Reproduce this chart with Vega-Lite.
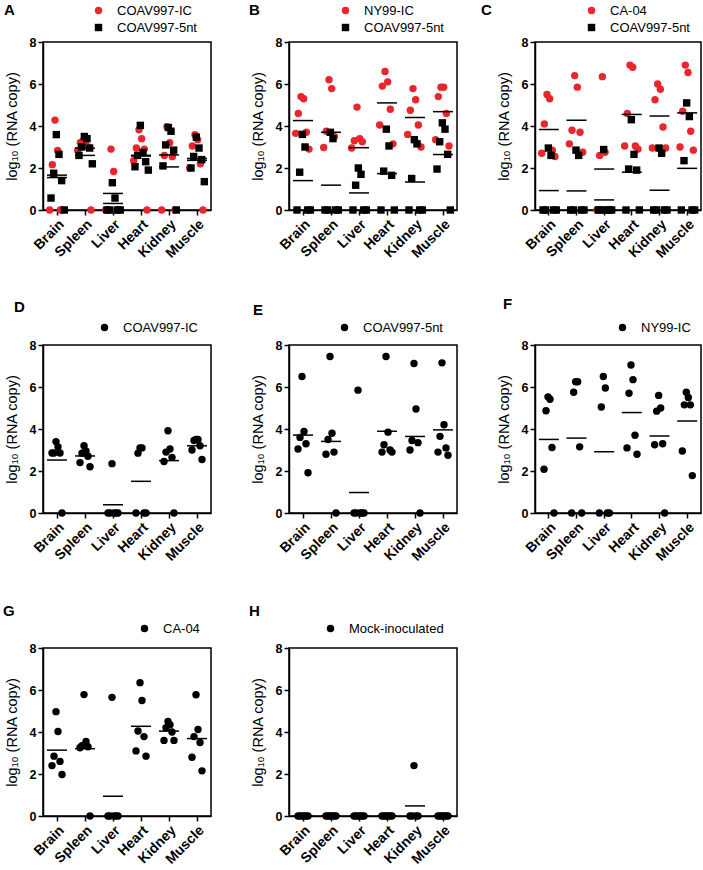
{
"$schema":"https://vega.github.io/schema/vega-lite/v6.json",
"padding":{"left":2,"top":2,"right":0,"bottom":0},
"background":"white",
"datasets":{
"A":[
{"t":"Brain","v":"COAV997-IC","y":4.28,"m":5},{"t":"Brain","v":"COAV997-IC","y":2.83,"m":7},{"t":"Brain","v":"COAV997-IC","y":2.16,"m":3},{"t":"Brain","v":"COAV997-IC","y":0,"m":9},{"t":"Brain","v":"COAV997-IC","y":0,"m":1},{"t":"Brain","v":"COAV997-IC","y":0,"m":11},
{"t":"Spleen","v":"COAV997-IC","y":3.3,"m":5},{"t":"Spleen","v":"COAV997-IC","y":3.25,"m":7},{"t":"Spleen","v":"COAV997-IC","y":3.2,"m":3},{"t":"Spleen","v":"COAV997-IC","y":3.0,"m":9},{"t":"Spleen","v":"COAV997-IC","y":2.85,"m":1},{"t":"Spleen","v":"COAV997-IC","y":0,"m":11},
{"t":"Liver","v":"COAV997-IC","y":2.9,"m":5},{"t":"Liver","v":"COAV997-IC","y":1.83,"m":7},{"t":"Liver","v":"COAV997-IC","y":0,"m":3},{"t":"Liver","v":"COAV997-IC","y":0,"m":9},{"t":"Liver","v":"COAV997-IC","y":0,"m":1},{"t":"Liver","v":"COAV997-IC","y":0,"m":11},
{"t":"Heart","v":"COAV997-IC","y":3.82,"m":5},{"t":"Heart","v":"COAV997-IC","y":3.39,"m":7},{"t":"Heart","v":"COAV997-IC","y":2.95,"m":3},{"t":"Heart","v":"COAV997-IC","y":2.9,"m":9},{"t":"Heart","v":"COAV997-IC","y":2.35,"m":1},{"t":"Heart","v":"COAV997-IC","y":0,"m":11},
{"t":"Kidney","v":"COAV997-IC","y":3.97,"m":5},{"t":"Kidney","v":"COAV997-IC","y":3.2,"m":7},{"t":"Kidney","v":"COAV997-IC","y":2.6,"m":3},{"t":"Kidney","v":"COAV997-IC","y":2.54,"m":9},{"t":"Kidney","v":"COAV997-IC","y":0,"m":1},{"t":"Kidney","v":"COAV997-IC","y":0,"m":11},
{"t":"Muscle","v":"COAV997-IC","y":3.58,"m":5},{"t":"Muscle","v":"COAV997-IC","y":3.35,"m":7},{"t":"Muscle","v":"COAV997-IC","y":3.05,"m":3},{"t":"Muscle","v":"COAV997-IC","y":2.2,"m":9},{"t":"Muscle","v":"COAV997-IC","y":2.0,"m":1},{"t":"Muscle","v":"COAV997-IC","y":0,"m":11},
{"t":"Brain","v":"COAV997-5nt","y":3.59,"m":6},{"t":"Brain","v":"COAV997-5nt","y":2.65,"m":8},{"t":"Brain","v":"COAV997-5nt","y":1.75,"m":4},{"t":"Brain","v":"COAV997-5nt","y":1.4,"m":10},{"t":"Brain","v":"COAV997-5nt","y":0.57,"m":2},{"t":"Brain","v":"COAV997-5nt","y":0,"m":12},
{"t":"Spleen","v":"COAV997-5nt","y":3.5,"m":6},{"t":"Spleen","v":"COAV997-5nt","y":3.4,"m":8},{"t":"Spleen","v":"COAV997-5nt","y":3.0,"m":4},{"t":"Spleen","v":"COAV997-5nt","y":2.95,"m":10},{"t":"Spleen","v":"COAV997-5nt","y":2.6,"m":2},{"t":"Spleen","v":"COAV997-5nt","y":2.2,"m":12},
{"t":"Liver","v":"COAV997-5nt","y":1.3,"m":6},{"t":"Liver","v":"COAV997-5nt","y":0.57,"m":8},{"t":"Liver","v":"COAV997-5nt","y":0,"m":4},{"t":"Liver","v":"COAV997-5nt","y":0,"m":10},{"t":"Liver","v":"COAV997-5nt","y":0,"m":2},{"t":"Liver","v":"COAV997-5nt","y":0,"m":12},
{"t":"Heart","v":"COAV997-5nt","y":4.03,"m":6},{"t":"Heart","v":"COAV997-5nt","y":2.74,"m":8},{"t":"Heart","v":"COAV997-5nt","y":2.6,"m":4},{"t":"Heart","v":"COAV997-5nt","y":2.3,"m":10},{"t":"Heart","v":"COAV997-5nt","y":2.06,"m":2},{"t":"Heart","v":"COAV997-5nt","y":1.9,"m":12},
{"t":"Kidney","v":"COAV997-5nt","y":3.93,"m":6},{"t":"Kidney","v":"COAV997-5nt","y":3.75,"m":8},{"t":"Kidney","v":"COAV997-5nt","y":3.1,"m":4},{"t":"Kidney","v":"COAV997-5nt","y":2.85,"m":10},{"t":"Kidney","v":"COAV997-5nt","y":2.1,"m":2},{"t":"Kidney","v":"COAV997-5nt","y":0,"m":12},
{"t":"Muscle","v":"COAV997-5nt","y":3.47,"m":6},{"t":"Muscle","v":"COAV997-5nt","y":2.95,"m":8},{"t":"Muscle","v":"COAV997-5nt","y":2.55,"m":4},{"t":"Muscle","v":"COAV997-5nt","y":2.4,"m":10},{"t":"Muscle","v":"COAV997-5nt","y":2.0,"m":2},{"t":"Muscle","v":"COAV997-5nt","y":1.35,"m":12}
],
"B":[
{"t":"Brain","v":"NY99-IC","y":5.4,"m":5},{"t":"Brain","v":"NY99-IC","y":5.3,"m":7},{"t":"Brain","v":"NY99-IC","y":4.6,"m":3},{"t":"Brain","v":"NY99-IC","y":3.7,"m":9},{"t":"Brain","v":"NY99-IC","y":3.65,"m":1},{"t":"Brain","v":"NY99-IC","y":2.9,"m":11},
{"t":"Spleen","v":"NY99-IC","y":6.2,"m":5},{"t":"Spleen","v":"NY99-IC","y":5.78,"m":7},{"t":"Spleen","v":"NY99-IC","y":3.75,"m":3},{"t":"Spleen","v":"NY99-IC","y":3.5,"m":9},{"t":"Spleen","v":"NY99-IC","y":2.98,"m":1},{"t":"Spleen","v":"NY99-IC","y":0,"m":11},
{"t":"Liver","v":"NY99-IC","y":4.9,"m":5},{"t":"Liver","v":"NY99-IC","y":3.4,"m":7},{"t":"Liver","v":"NY99-IC","y":3.3,"m":3},{"t":"Liver","v":"NY99-IC","y":3.25,"m":9},{"t":"Liver","v":"NY99-IC","y":2.95,"m":1},{"t":"Liver","v":"NY99-IC","y":0,"m":11},
{"t":"Heart","v":"NY99-IC","y":6.6,"m":5},{"t":"Heart","v":"NY99-IC","y":6.1,"m":7},{"t":"Heart","v":"NY99-IC","y":5.9,"m":3},{"t":"Heart","v":"NY99-IC","y":4.8,"m":9},{"t":"Heart","v":"NY99-IC","y":4.05,"m":1},{"t":"Heart","v":"NY99-IC","y":3.15,"m":11},
{"t":"Kidney","v":"NY99-IC","y":5.78,"m":5},{"t":"Kidney","v":"NY99-IC","y":5.25,"m":7},{"t":"Kidney","v":"NY99-IC","y":4.75,"m":3},{"t":"Kidney","v":"NY99-IC","y":4.05,"m":9},{"t":"Kidney","v":"NY99-IC","y":3.6,"m":1},{"t":"Kidney","v":"NY99-IC","y":3.0,"m":11},
{"t":"Muscle","v":"NY99-IC","y":5.85,"m":5},{"t":"Muscle","v":"NY99-IC","y":5.85,"m":7},{"t":"Muscle","v":"NY99-IC","y":5.4,"m":3},{"t":"Muscle","v":"NY99-IC","y":4.6,"m":9},{"t":"Muscle","v":"NY99-IC","y":3.35,"m":1},{"t":"Muscle","v":"NY99-IC","y":3.05,"m":11},
{"t":"Brain","v":"COAV997-5nt","y":3.6,"m":6},{"t":"Brain","v":"COAV997-5nt","y":3.0,"m":8},{"t":"Brain","v":"COAV997-5nt","y":1.8,"m":4},{"t":"Brain","v":"COAV997-5nt","y":0,"m":10},{"t":"Brain","v":"COAV997-5nt","y":0,"m":2},{"t":"Brain","v":"COAV997-5nt","y":0,"m":12},
{"t":"Spleen","v":"COAV997-5nt","y":3.7,"m":6},{"t":"Spleen","v":"COAV997-5nt","y":3.4,"m":8},{"t":"Spleen","v":"COAV997-5nt","y":0,"m":4},{"t":"Spleen","v":"COAV997-5nt","y":0,"m":10},{"t":"Spleen","v":"COAV997-5nt","y":0,"m":2},{"t":"Spleen","v":"COAV997-5nt","y":0,"m":12},
{"t":"Liver","v":"COAV997-5nt","y":2.0,"m":6},{"t":"Liver","v":"COAV997-5nt","y":1.7,"m":8},{"t":"Liver","v":"COAV997-5nt","y":1.18,"m":4},{"t":"Liver","v":"COAV997-5nt","y":0,"m":10},{"t":"Liver","v":"COAV997-5nt","y":0,"m":2},{"t":"Liver","v":"COAV997-5nt","y":0,"m":12},
{"t":"Heart","v":"COAV997-5nt","y":3.85,"m":6},{"t":"Heart","v":"COAV997-5nt","y":3.05,"m":8},{"t":"Heart","v":"COAV997-5nt","y":1.85,"m":4},{"t":"Heart","v":"COAV997-5nt","y":1.65,"m":10},{"t":"Heart","v":"COAV997-5nt","y":0,"m":2},{"t":"Heart","v":"COAV997-5nt","y":0,"m":12},
{"t":"Kidney","v":"COAV997-5nt","y":3.35,"m":6},{"t":"Kidney","v":"COAV997-5nt","y":3.15,"m":8},{"t":"Kidney","v":"COAV997-5nt","y":1.5,"m":4},{"t":"Kidney","v":"COAV997-5nt","y":0,"m":10},{"t":"Kidney","v":"COAV997-5nt","y":0,"m":2},{"t":"Kidney","v":"COAV997-5nt","y":0,"m":12},
{"t":"Muscle","v":"COAV997-5nt","y":4.15,"m":6},{"t":"Muscle","v":"COAV997-5nt","y":3.85,"m":8},{"t":"Muscle","v":"COAV997-5nt","y":3.25,"m":4},{"t":"Muscle","v":"COAV997-5nt","y":2.65,"m":10},{"t":"Muscle","v":"COAV997-5nt","y":1.95,"m":2},{"t":"Muscle","v":"COAV997-5nt","y":0,"m":12}
],
"C":[
{"t":"Brain","v":"CA-04","y":5.5,"m":5},{"t":"Brain","v":"CA-04","y":5.3,"m":7},{"t":"Brain","v":"CA-04","y":4.1,"m":3},{"t":"Brain","v":"CA-04","y":2.85,"m":9},{"t":"Brain","v":"CA-04","y":2.7,"m":1},{"t":"Brain","v":"CA-04","y":2.55,"m":11},
{"t":"Spleen","v":"CA-04","y":6.4,"m":5},{"t":"Spleen","v":"CA-04","y":5.85,"m":7},{"t":"Spleen","v":"CA-04","y":3.8,"m":3},{"t":"Spleen","v":"CA-04","y":3.7,"m":9},{"t":"Spleen","v":"CA-04","y":3.15,"m":1},{"t":"Spleen","v":"CA-04","y":2.75,"m":11},
{"t":"Liver","v":"CA-04","y":6.35,"m":5},{"t":"Liver","v":"CA-04","y":2.75,"m":7},{"t":"Liver","v":"CA-04","y":2.6,"m":3},{"t":"Liver","v":"CA-04","y":0,"m":9},{"t":"Liver","v":"CA-04","y":0,"m":1},{"t":"Liver","v":"CA-04","y":0,"m":11},
{"t":"Heart","v":"CA-04","y":6.9,"m":5},{"t":"Heart","v":"CA-04","y":6.8,"m":7},{"t":"Heart","v":"CA-04","y":4.6,"m":3},{"t":"Heart","v":"CA-04","y":3.05,"m":9},{"t":"Heart","v":"CA-04","y":3.05,"m":1},{"t":"Heart","v":"CA-04","y":2.9,"m":11},
{"t":"Kidney","v":"CA-04","y":6.0,"m":5},{"t":"Kidney","v":"CA-04","y":5.75,"m":7},{"t":"Kidney","v":"CA-04","y":5.25,"m":3},{"t":"Kidney","v":"CA-04","y":3.95,"m":9},{"t":"Kidney","v":"CA-04","y":2.95,"m":1},{"t":"Kidney","v":"CA-04","y":2.95,"m":11},
{"t":"Muscle","v":"CA-04","y":6.9,"m":5},{"t":"Muscle","v":"CA-04","y":6.55,"m":7},{"t":"Muscle","v":"CA-04","y":4.7,"m":3},{"t":"Muscle","v":"CA-04","y":3.75,"m":9},{"t":"Muscle","v":"CA-04","y":3.0,"m":1},{"t":"Muscle","v":"CA-04","y":2.85,"m":11},
{"t":"Brain","v":"COAV997-5nt","y":2.95,"m":6},{"t":"Brain","v":"COAV997-5nt","y":2.6,"m":8},{"t":"Brain","v":"COAV997-5nt","y":0,"m":4},{"t":"Brain","v":"COAV997-5nt","y":0,"m":10},{"t":"Brain","v":"COAV997-5nt","y":0,"m":2},{"t":"Brain","v":"COAV997-5nt","y":0,"m":12},
{"t":"Spleen","v":"COAV997-5nt","y":2.85,"m":6},{"t":"Spleen","v":"COAV997-5nt","y":2.6,"m":8},{"t":"Spleen","v":"COAV997-5nt","y":0,"m":4},{"t":"Spleen","v":"COAV997-5nt","y":0,"m":10},{"t":"Spleen","v":"COAV997-5nt","y":0,"m":2},{"t":"Spleen","v":"COAV997-5nt","y":0,"m":12},
{"t":"Liver","v":"COAV997-5nt","y":2.88,"m":6},{"t":"Liver","v":"COAV997-5nt","y":0,"m":8},{"t":"Liver","v":"COAV997-5nt","y":0,"m":4},{"t":"Liver","v":"COAV997-5nt","y":0,"m":10},{"t":"Liver","v":"COAV997-5nt","y":0,"m":2},{"t":"Liver","v":"COAV997-5nt","y":0,"m":12},
{"t":"Heart","v":"COAV997-5nt","y":4.3,"m":6},{"t":"Heart","v":"COAV997-5nt","y":2.65,"m":8},{"t":"Heart","v":"COAV997-5nt","y":1.95,"m":4},{"t":"Heart","v":"COAV997-5nt","y":1.9,"m":10},{"t":"Heart","v":"COAV997-5nt","y":0,"m":2},{"t":"Heart","v":"COAV997-5nt","y":0,"m":12},
{"t":"Kidney","v":"COAV997-5nt","y":2.95,"m":6},{"t":"Kidney","v":"COAV997-5nt","y":2.7,"m":8},{"t":"Kidney","v":"COAV997-5nt","y":0,"m":4},{"t":"Kidney","v":"COAV997-5nt","y":0,"m":10},{"t":"Kidney","v":"COAV997-5nt","y":0,"m":2},{"t":"Kidney","v":"COAV997-5nt","y":0,"m":12},
{"t":"Muscle","v":"COAV997-5nt","y":5.1,"m":6},{"t":"Muscle","v":"COAV997-5nt","y":4.45,"m":8},{"t":"Muscle","v":"COAV997-5nt","y":2.35,"m":4},{"t":"Muscle","v":"COAV997-5nt","y":0,"m":10},{"t":"Muscle","v":"COAV997-5nt","y":0,"m":2},{"t":"Muscle","v":"COAV997-5nt","y":0,"m":12}
],
"D":[
{"t":"Brain","v":"COAV997-IC","y":3.4,"m":3},{"t":"Brain","v":"COAV997-IC","y":3.15,"m":4},{"t":"Brain","v":"COAV997-IC","y":2.86,"m":2},{"t":"Brain","v":"COAV997-IC","y":2.86,"m":5},{"t":"Brain","v":"COAV997-IC","y":2.86,"m":1},{"t":"Brain","v":"COAV997-IC","y":0,"m":6},
{"t":"Spleen","v":"COAV997-IC","y":3.2,"m":3},{"t":"Spleen","v":"COAV997-IC","y":2.95,"m":4},{"t":"Spleen","v":"COAV997-IC","y":2.85,"m":2},{"t":"Spleen","v":"COAV997-IC","y":2.7,"m":5},{"t":"Spleen","v":"COAV997-IC","y":2.4,"m":1},{"t":"Spleen","v":"COAV997-IC","y":2.2,"m":6},
{"t":"Liver","v":"COAV997-IC","y":2.35,"m":3},{"t":"Liver","v":"COAV997-IC","y":0,"m":4},{"t":"Liver","v":"COAV997-IC","y":0,"m":2},{"t":"Liver","v":"COAV997-IC","y":0,"m":5},{"t":"Liver","v":"COAV997-IC","y":0,"m":1},{"t":"Liver","v":"COAV997-IC","y":0,"m":6},
{"t":"Heart","v":"COAV997-IC","y":3.1,"m":3},{"t":"Heart","v":"COAV997-IC","y":3.1,"m":4},{"t":"Heart","v":"COAV997-IC","y":2.85,"m":2},{"t":"Heart","v":"COAV997-IC","y":0,"m":5},{"t":"Heart","v":"COAV997-IC","y":0,"m":1},{"t":"Heart","v":"COAV997-IC","y":0,"m":6},
{"t":"Kidney","v":"COAV997-IC","y":3.92,"m":3},{"t":"Kidney","v":"COAV997-IC","y":3.05,"m":4},{"t":"Kidney","v":"COAV997-IC","y":2.9,"m":2},{"t":"Kidney","v":"COAV997-IC","y":2.65,"m":5},{"t":"Kidney","v":"COAV997-IC","y":2.45,"m":1},{"t":"Kidney","v":"COAV997-IC","y":0,"m":6},
{"t":"Muscle","v":"COAV997-IC","y":3.5,"m":3},{"t":"Muscle","v":"COAV997-IC","y":3.5,"m":4},{"t":"Muscle","v":"COAV997-IC","y":3.45,"m":2},{"t":"Muscle","v":"COAV997-IC","y":3.2,"m":5},{"t":"Muscle","v":"COAV997-IC","y":3.0,"m":1},{"t":"Muscle","v":"COAV997-IC","y":2.55,"m":6}
],
"E":[
{"t":"Brain","v":"COAV997-5nt","y":6.5,"m":3},{"t":"Brain","v":"COAV997-5nt","y":3.88,"m":4},{"t":"Brain","v":"COAV997-5nt","y":3.6,"m":2},{"t":"Brain","v":"COAV997-5nt","y":3.3,"m":5},{"t":"Brain","v":"COAV997-5nt","y":3.05,"m":1},{"t":"Brain","v":"COAV997-5nt","y":1.92,"m":6},
{"t":"Spleen","v":"COAV997-5nt","y":7.45,"m":3},{"t":"Spleen","v":"COAV997-5nt","y":3.8,"m":4},{"t":"Spleen","v":"COAV997-5nt","y":3.5,"m":2},{"t":"Spleen","v":"COAV997-5nt","y":2.9,"m":5},{"t":"Spleen","v":"COAV997-5nt","y":2.8,"m":1},{"t":"Spleen","v":"COAV997-5nt","y":0,"m":6},
{"t":"Liver","v":"COAV997-5nt","y":5.85,"m":3},{"t":"Liver","v":"COAV997-5nt","y":0,"m":4},{"t":"Liver","v":"COAV997-5nt","y":0,"m":2},{"t":"Liver","v":"COAV997-5nt","y":0,"m":5},{"t":"Liver","v":"COAV997-5nt","y":0,"m":1},{"t":"Liver","v":"COAV997-5nt","y":0,"m":6},
{"t":"Heart","v":"COAV997-5nt","y":7.45,"m":3},{"t":"Heart","v":"COAV997-5nt","y":3.85,"m":4},{"t":"Heart","v":"COAV997-5nt","y":3.25,"m":2},{"t":"Heart","v":"COAV997-5nt","y":3.0,"m":5},{"t":"Heart","v":"COAV997-5nt","y":2.9,"m":1},{"t":"Heart","v":"COAV997-5nt","y":2.9,"m":6},
{"t":"Kidney","v":"COAV997-5nt","y":7.12,"m":3},{"t":"Kidney","v":"COAV997-5nt","y":4.95,"m":4},{"t":"Kidney","v":"COAV997-5nt","y":3.45,"m":2},{"t":"Kidney","v":"COAV997-5nt","y":3.35,"m":5},{"t":"Kidney","v":"COAV997-5nt","y":3.0,"m":1},{"t":"Kidney","v":"COAV997-5nt","y":0,"m":6},
{"t":"Muscle","v":"COAV997-5nt","y":7.15,"m":3},{"t":"Muscle","v":"COAV997-5nt","y":4.2,"m":4},{"t":"Muscle","v":"COAV997-5nt","y":3.65,"m":2},{"t":"Muscle","v":"COAV997-5nt","y":3.1,"m":5},{"t":"Muscle","v":"COAV997-5nt","y":2.9,"m":1},{"t":"Muscle","v":"COAV997-5nt","y":2.75,"m":6}
],
"F":[
{"t":"Brain","v":"NY99-IC","y":5.53,"m":3},{"t":"Brain","v":"NY99-IC","y":5.42,"m":4},{"t":"Brain","v":"NY99-IC","y":4.87,"m":2},{"t":"Brain","v":"NY99-IC","y":3.12,"m":5},{"t":"Brain","v":"NY99-IC","y":2.08,"m":1},{"t":"Brain","v":"NY99-IC","y":0,"m":6},
{"t":"Spleen","v":"NY99-IC","y":6.25,"m":3},{"t":"Spleen","v":"NY99-IC","y":6.25,"m":4},{"t":"Spleen","v":"NY99-IC","y":5.75,"m":2},{"t":"Spleen","v":"NY99-IC","y":3.15,"m":5},{"t":"Spleen","v":"NY99-IC","y":0,"m":1},{"t":"Spleen","v":"NY99-IC","y":0,"m":6},
{"t":"Liver","v":"NY99-IC","y":6.5,"m":3},{"t":"Liver","v":"NY99-IC","y":5.95,"m":4},{"t":"Liver","v":"NY99-IC","y":5.05,"m":2},{"t":"Liver","v":"NY99-IC","y":0,"m":5},{"t":"Liver","v":"NY99-IC","y":0,"m":1},{"t":"Liver","v":"NY99-IC","y":0,"m":6},
{"t":"Heart","v":"NY99-IC","y":7.05,"m":3},{"t":"Heart","v":"NY99-IC","y":6.35,"m":4},{"t":"Heart","v":"NY99-IC","y":5.7,"m":2},{"t":"Heart","v":"NY99-IC","y":3.7,"m":5},{"t":"Heart","v":"NY99-IC","y":3.1,"m":1},{"t":"Heart","v":"NY99-IC","y":2.8,"m":6},
{"t":"Kidney","v":"NY99-IC","y":5.6,"m":3},{"t":"Kidney","v":"NY99-IC","y":5.0,"m":4},{"t":"Kidney","v":"NY99-IC","y":4.85,"m":2},{"t":"Kidney","v":"NY99-IC","y":3.3,"m":5},{"t":"Kidney","v":"NY99-IC","y":3.25,"m":1},{"t":"Kidney","v":"NY99-IC","y":0,"m":6},
{"t":"Muscle","v":"NY99-IC","y":5.75,"m":3},{"t":"Muscle","v":"NY99-IC","y":5.5,"m":4},{"t":"Muscle","v":"NY99-IC","y":5.15,"m":2},{"t":"Muscle","v":"NY99-IC","y":5.15,"m":5},{"t":"Muscle","v":"NY99-IC","y":2.95,"m":1},{"t":"Muscle","v":"NY99-IC","y":1.78,"m":6}
],
"G":[
{"t":"Brain","v":"CA-04","y":4.97,"m":3},{"t":"Brain","v":"CA-04","y":4.02,"m":4},{"t":"Brain","v":"CA-04","y":2.85,"m":2},{"t":"Brain","v":"CA-04","y":2.6,"m":5},{"t":"Brain","v":"CA-04","y":2.4,"m":1},{"t":"Brain","v":"CA-04","y":1.98,"m":6},
{"t":"Spleen","v":"CA-04","y":5.78,"m":3},{"t":"Spleen","v":"CA-04","y":3.55,"m":4},{"t":"Spleen","v":"CA-04","y":3.35,"m":2},{"t":"Spleen","v":"CA-04","y":3.3,"m":5},{"t":"Spleen","v":"CA-04","y":3.25,"m":1},{"t":"Spleen","v":"CA-04","y":0,"m":6},
{"t":"Liver","v":"CA-04","y":5.65,"m":3},{"t":"Liver","v":"CA-04","y":0,"m":4},{"t":"Liver","v":"CA-04","y":0,"m":2},{"t":"Liver","v":"CA-04","y":0,"m":5},{"t":"Liver","v":"CA-04","y":0,"m":1},{"t":"Liver","v":"CA-04","y":0,"m":6},
{"t":"Heart","v":"CA-04","y":6.35,"m":3},{"t":"Heart","v":"CA-04","y":5.5,"m":4},{"t":"Heart","v":"CA-04","y":4.05,"m":2},{"t":"Heart","v":"CA-04","y":3.78,"m":5},{"t":"Heart","v":"CA-04","y":3.1,"m":1},{"t":"Heart","v":"CA-04","y":2.85,"m":6},
{"t":"Kidney","v":"CA-04","y":4.5,"m":3},{"t":"Kidney","v":"CA-04","y":4.35,"m":4},{"t":"Kidney","v":"CA-04","y":4.2,"m":2},{"t":"Kidney","v":"CA-04","y":4.0,"m":5},{"t":"Kidney","v":"CA-04","y":3.6,"m":1},{"t":"Kidney","v":"CA-04","y":3.6,"m":6},
{"t":"Muscle","v":"CA-04","y":5.77,"m":3},{"t":"Muscle","v":"CA-04","y":4.12,"m":4},{"t":"Muscle","v":"CA-04","y":3.78,"m":2},{"t":"Muscle","v":"CA-04","y":3.5,"m":5},{"t":"Muscle","v":"CA-04","y":2.8,"m":1},{"t":"Muscle","v":"CA-04","y":2.15,"m":6}
],
"H":[
{"t":"Brain","v":"Mock-inoculated","y":0,"m":3},{"t":"Brain","v":"Mock-inoculated","y":0,"m":4},{"t":"Brain","v":"Mock-inoculated","y":0,"m":2},{"t":"Brain","v":"Mock-inoculated","y":0,"m":5},{"t":"Brain","v":"Mock-inoculated","y":0,"m":1},{"t":"Brain","v":"Mock-inoculated","y":0,"m":6},
{"t":"Spleen","v":"Mock-inoculated","y":0,"m":3},{"t":"Spleen","v":"Mock-inoculated","y":0,"m":4},{"t":"Spleen","v":"Mock-inoculated","y":0,"m":2},{"t":"Spleen","v":"Mock-inoculated","y":0,"m":5},{"t":"Spleen","v":"Mock-inoculated","y":0,"m":1},{"t":"Spleen","v":"Mock-inoculated","y":0,"m":6},
{"t":"Liver","v":"Mock-inoculated","y":0,"m":3},{"t":"Liver","v":"Mock-inoculated","y":0,"m":4},{"t":"Liver","v":"Mock-inoculated","y":0,"m":2},{"t":"Liver","v":"Mock-inoculated","y":0,"m":5},{"t":"Liver","v":"Mock-inoculated","y":0,"m":1},{"t":"Liver","v":"Mock-inoculated","y":0,"m":6},
{"t":"Heart","v":"Mock-inoculated","y":0,"m":3},{"t":"Heart","v":"Mock-inoculated","y":0,"m":4},{"t":"Heart","v":"Mock-inoculated","y":0,"m":2},{"t":"Heart","v":"Mock-inoculated","y":0,"m":5},{"t":"Heart","v":"Mock-inoculated","y":0,"m":1},{"t":"Heart","v":"Mock-inoculated","y":0,"m":6},
{"t":"Kidney","v":"Mock-inoculated","y":2.4,"m":3},{"t":"Kidney","v":"Mock-inoculated","y":0,"m":4},{"t":"Kidney","v":"Mock-inoculated","y":0,"m":2},{"t":"Kidney","v":"Mock-inoculated","y":0,"m":5},{"t":"Kidney","v":"Mock-inoculated","y":0,"m":1},
{"t":"Muscle","v":"Mock-inoculated","y":0,"m":3},{"t":"Muscle","v":"Mock-inoculated","y":0,"m":4},{"t":"Muscle","v":"Mock-inoculated","y":0,"m":2},{"t":"Muscle","v":"Mock-inoculated","y":0,"m":5},{"t":"Muscle","v":"Mock-inoculated","y":0,"m":1},{"t":"Muscle","v":"Mock-inoculated","y":0,"m":6}
]
},
"columns":3,
"spacing":{"row":135,"column":78},
"bounds":"flush",
"resolve":{"scale":{"x":"independent","y":"independent","color":"independent","shape":"independent","xOffset":"independent"},"legend":{"color":"independent","shape":"independent"},"axis":{"x":"independent","y":"independent"}},
"concat":[
{"width":168,"height":168,"title":{"text":"A","dx":-39,"offset":-14},"data":{"name":"A"},
 "encoding":{"x":{"field":"t","type":"nominal","sort":null,"scale":{"domain":["Brain","Spleen","Liver","Heart","Kidney","Muscle"],"paddingInner":0,"paddingOuter":0},"axis":{"title":null,"labelAngle":-45,"labelFontSize":14,"ticks":true}},
  "y":{"field":"y","type":"quantitative","scale":{"domain":[0,8],"nice":false},"axis":{"title":"log₁₀ (RNA copy)","values":[0,2,4,6,8]}}},
 "layer":[
  {"mark":{"type":"point","filled":true,"size":55,"opacity":1,"strokeWidth":0},
   "encoding":{"xOffset":{"field":"m","type":"ordinal","scale":{"type":"point","domain":[1,2,3,4,5,6,7,8,9,10,11,12],"range":[6,22]}},
    "color":{"field":"v","type":"nominal","scale":{"domain":["COAV997-IC","COAV997-5nt"],"range":["#e8262b","#000000"]},"legend":{"orient":"none","legendX":49,"legendY":-38,"title":null,"direction":"vertical"}},
    "shape":{"field":"v","type":"nominal","scale":{"domain":["COAV997-IC","COAV997-5nt"],"range":["circle","square"]},"legend":{"orient":"none","legendX":49,"legendY":-38,"title":null,"direction":"vertical"}}}},
  {"transform":[{"aggregate":[{"op":"mean","field":"y","as":"y"}],"groupby":["t","v"]}],
   "mark":{"type":"tick","color":"black","thickness":1.5,"size":20,"opacity":1},"encoding":{}},
  {"data":{"values":[{"p":"p = 0.6764"}]},"mark":{"type":"text","align":"right","baseline":"middle","dx":9,"fontSize":14},
   "encoding":{"x":{"datum":"Muscle"},"y":{"datum":7.45},"text":{"field":"p"}}}
 ]},
{"width":168,"height":168,"title":{"text":"B","dx":-40,"offset":-14},"data":{"name":"B"},
 "encoding":{"x":{"field":"t","type":"nominal","sort":null,"scale":{"domain":["Brain","Spleen","Liver","Heart","Kidney","Muscle"],"paddingInner":0,"paddingOuter":0},"axis":{"title":null,"labelAngle":-45,"labelFontSize":14,"ticks":true}},
  "y":{"field":"y","type":"quantitative","scale":{"domain":[0,8],"nice":false},"axis":{"title":"log₁₀ (RNA copy)","values":[0,2,4,6,8]}}},
 "layer":[
  {"mark":{"type":"point","filled":true,"size":55,"opacity":1,"strokeWidth":0},
   "encoding":{"xOffset":{"field":"m","type":"ordinal","scale":{"type":"point","domain":[1,2,3,4,5,6,7,8,9,10,11,12],"range":[6,22]}},
    "color":{"field":"v","type":"nominal","scale":{"domain":["NY99-IC","COAV997-5nt"],"range":["#e8262b","#000000"]},"legend":{"orient":"none","legendX":50,"legendY":-38,"title":null,"direction":"vertical"}},
    "shape":{"field":"v","type":"nominal","scale":{"domain":["NY99-IC","COAV997-5nt"],"range":["circle","square"]},"legend":{"orient":"none","legendX":50,"legendY":-38,"title":null,"direction":"vertical"}}}},
  {"transform":[{"aggregate":[{"op":"mean","field":"y","as":"y"}],"groupby":["t","v"]}],
   "mark":{"type":"tick","color":"black","thickness":1.5,"size":20,"opacity":1},"encoding":{}},
  {"data":{"values":[{"p":"p = 0.0046"}]},"mark":{"type":"text","align":"right","baseline":"middle","dx":9,"fontSize":14},
   "encoding":{"x":{"datum":"Muscle"},"y":{"datum":7.45},"text":{"field":"p"}}}
 ]},
{"width":166,"height":168,"title":{"text":"C","dx":-54,"offset":-14},"data":{"name":"C"},
 "encoding":{"x":{"field":"t","type":"nominal","sort":null,"scale":{"domain":["Brain","Spleen","Liver","Heart","Kidney","Muscle"],"paddingInner":0,"paddingOuter":0},"axis":{"title":null,"labelAngle":-45,"labelFontSize":14,"ticks":true}},
  "y":{"field":"y","type":"quantitative","scale":{"domain":[0,8],"nice":false},"axis":{"title":"log₁₀ (RNA copy)","values":[0,2,4,6,8]}}},
 "layer":[
  {"mark":{"type":"point","filled":true,"size":55,"opacity":1,"strokeWidth":0},
   "encoding":{"xOffset":{"field":"m","type":"ordinal","scale":{"type":"point","domain":[1,2,3,4,5,6,7,8,9,10,11,12],"range":[6,22]}},
    "color":{"field":"v","type":"nominal","scale":{"domain":["CA-04","COAV997-5nt"],"range":["#e8262b","#000000"]},"legend":{"orient":"none","legendX":50,"legendY":-38,"title":null,"direction":"vertical"}},
    "shape":{"field":"v","type":"nominal","scale":{"domain":["CA-04","COAV997-5nt"],"range":["circle","square"]},"legend":{"orient":"none","legendX":50,"legendY":-38,"title":null,"direction":"vertical"}}}},
  {"transform":[{"aggregate":[{"op":"mean","field":"y","as":"y"}],"groupby":["t","v"]}],
   "mark":{"type":"tick","color":"black","thickness":1.5,"size":20,"opacity":1},"encoding":{}},
  {"data":{"values":[{"p":"p = 0.0078"}]},"mark":{"type":"text","align":"right","baseline":"middle","dx":10,"fontSize":14},
   "encoding":{"x":{"datum":"Muscle"},"y":{"datum":7.55},"text":{"field":"p"}}}
 ]},
{"width":168,"height":168,"title":{"text":"D","dx":-29,"offset":6},"data":{"name":"D"},
 "encoding":{"x":{"field":"t","type":"nominal","sort":null,"scale":{"domain":["Brain","Spleen","Liver","Heart","Kidney","Muscle"],"paddingInner":0,"paddingOuter":0},"axis":{"title":null,"labelAngle":-45,"labelFontSize":14,"ticks":true}},
  "y":{"field":"y","type":"quantitative","scale":{"domain":[0,8],"nice":false},"axis":{"title":"log₁₀ (RNA copy)","values":[0,2,4,6,8]}}},
 "layer":[
  {"mark":{"type":"point","filled":true,"size":55,"opacity":1,"strokeWidth":0,"shape":"circle"},
   "encoding":{"xOffset":{"field":"m","type":"ordinal","scale":{"type":"point","domain":[1,2,3,4,5,6],"range":[8,20]}},
    "color":{"field":"v","type":"nominal","scale":{"range":["#000000"]},"legend":{"orient":"none","legendX":55,"legendY":-24,"title":null}}}},
  {"transform":[{"aggregate":[{"op":"mean","field":"y","as":"y"}],"groupby":["t"]}],
   "mark":{"type":"tick","color":"black","thickness":1.5,"size":20,"opacity":1},"encoding":{}}
 ]},
{"width":168,"height":168,"title":{"text":"E","dx":-36,"offset":3},"data":{"name":"E"},
 "encoding":{"x":{"field":"t","type":"nominal","sort":null,"scale":{"domain":["Brain","Spleen","Liver","Heart","Kidney","Muscle"],"paddingInner":0,"paddingOuter":0},"axis":{"title":null,"labelAngle":-45,"labelFontSize":14,"ticks":true}},
  "y":{"field":"y","type":"quantitative","scale":{"domain":[0,8],"nice":false},"axis":{"title":"log₁₀ (RNA copy)","values":[0,2,4,6,8]}}},
 "layer":[
  {"mark":{"type":"point","filled":true,"size":55,"opacity":1,"strokeWidth":0,"shape":"circle"},
   "encoding":{"xOffset":{"field":"m","type":"ordinal","scale":{"type":"point","domain":[1,2,3,4,5,6],"range":[8,20]}},
    "color":{"field":"v","type":"nominal","scale":{"range":["#000000"]},"legend":{"orient":"none","legendX":49,"legendY":-24,"title":null}}}},
  {"transform":[{"aggregate":[{"op":"mean","field":"y","as":"y"}],"groupby":["t"]}],
   "mark":{"type":"tick","color":"black","thickness":1.5,"size":20,"opacity":1},"encoding":{}}
 ]},
{"width":166,"height":168,"title":{"text":"F","dx":-32,"offset":9},"data":{"name":"F"},
 "encoding":{"x":{"field":"t","type":"nominal","sort":null,"scale":{"domain":["Brain","Spleen","Liver","Heart","Kidney","Muscle"],"paddingInner":0,"paddingOuter":0},"axis":{"title":null,"labelAngle":-45,"labelFontSize":14,"ticks":true}},
  "y":{"field":"y","type":"quantitative","scale":{"domain":[0,8],"nice":false},"axis":{"title":"log₁₀ (RNA copy)","values":[0,2,4,6,8]}}},
 "layer":[
  {"mark":{"type":"point","filled":true,"size":55,"opacity":1,"strokeWidth":0,"shape":"circle"},
   "encoding":{"xOffset":{"field":"m","type":"ordinal","scale":{"type":"point","domain":[1,2,3,4,5,6],"range":[8,20]}},
    "color":{"field":"v","type":"nominal","scale":{"range":["#000000"]},"legend":{"orient":"none","legendX":81,"legendY":-24,"title":null}}}},
  {"transform":[{"aggregate":[{"op":"mean","field":"y","as":"y"}],"groupby":["t"]}],
   "mark":{"type":"tick","color":"black","thickness":1.5,"size":20,"opacity":1},"encoding":{}}
 ]},
{"width":168,"height":168,"title":{"text":"G","dx":-40,"offset":3},"data":{"name":"G"},
 "encoding":{"x":{"field":"t","type":"nominal","sort":null,"scale":{"domain":["Brain","Spleen","Liver","Heart","Kidney","Muscle"],"paddingInner":0,"paddingOuter":0},"axis":{"title":null,"labelAngle":-45,"labelFontSize":14,"ticks":true}},
  "y":{"field":"y","type":"quantitative","scale":{"domain":[0,8],"nice":false},"axis":{"title":"log₁₀ (RNA copy)","values":[0,2,4,6,8]}}},
 "layer":[
  {"mark":{"type":"point","filled":true,"size":55,"opacity":1,"strokeWidth":0,"shape":"circle"},
   "encoding":{"xOffset":{"field":"m","type":"ordinal","scale":{"type":"point","domain":[1,2,3,4,5,6],"range":[8,20]}},
    "color":{"field":"v","type":"nominal","scale":{"range":["#000000"]},"legend":{"orient":"none","legendX":95,"legendY":-26,"title":null}}}},
  {"transform":[{"aggregate":[{"op":"mean","field":"y","as":"y"}],"groupby":["t"]}],
   "mark":{"type":"tick","color":"black","thickness":1.5,"size":20,"opacity":1},"encoding":{}}
 ]},
{"width":168,"height":168,"title":{"text":"H","dx":-40,"offset":3},"data":{"name":"H"},
 "encoding":{"x":{"field":"t","type":"nominal","sort":null,"scale":{"domain":["Brain","Spleen","Liver","Heart","Kidney","Muscle"],"paddingInner":0,"paddingOuter":0},"axis":{"title":null,"labelAngle":-45,"labelFontSize":14,"ticks":true}},
  "y":{"field":"y","type":"quantitative","scale":{"domain":[0,8],"nice":false},"axis":{"title":"log₁₀ (RNA copy)","values":[0,2,4,6,8]}}},
 "layer":[
  {"mark":{"type":"point","filled":true,"size":55,"opacity":1,"strokeWidth":0,"shape":"circle"},
   "encoding":{"xOffset":{"field":"m","type":"ordinal","scale":{"type":"point","domain":[1,2,3,4,5,6],"range":[8,20]}},
    "color":{"field":"v","type":"nominal","scale":{"range":["#000000"]},"legend":{"orient":"none","legendX":35,"legendY":-26,"title":null}}}},
  {"transform":[{"aggregate":[{"op":"mean","field":"y","as":"y"}],"groupby":["t"]}],
   "mark":{"type":"tick","color":"black","thickness":1.5,"size":20,"opacity":1},"encoding":{}}
 ]}
],
"config":{
 "font":"Liberation Sans",
 "view":{"stroke":"black","strokeWidth":1.5},
 "title":{"anchor":"start","frame":"group","fontSize":15,"fontWeight":"bold","color":"black","baseline":"bottom"},
 "axis":{"domainColor":"black","domainWidth":1.5,"tickColor":"black","tickWidth":1.5,"tickSize":5,"labelColor":"black","titleColor":"black","grid":false,"labelFontWeight":"bold","labelFontSize":12.5,"titleFontSize":14.5,"titleFontWeight":"normal","titlePadding":10,"labelPadding":2},
 "legend":{"labelFontSize":13,"labelColor":"black","symbolSize":55,"labelOffset":12,"padding":0,"rowPadding":3,"symbolStrokeWidth":0,"labelFont":"Liberation Sans"}
}
}
